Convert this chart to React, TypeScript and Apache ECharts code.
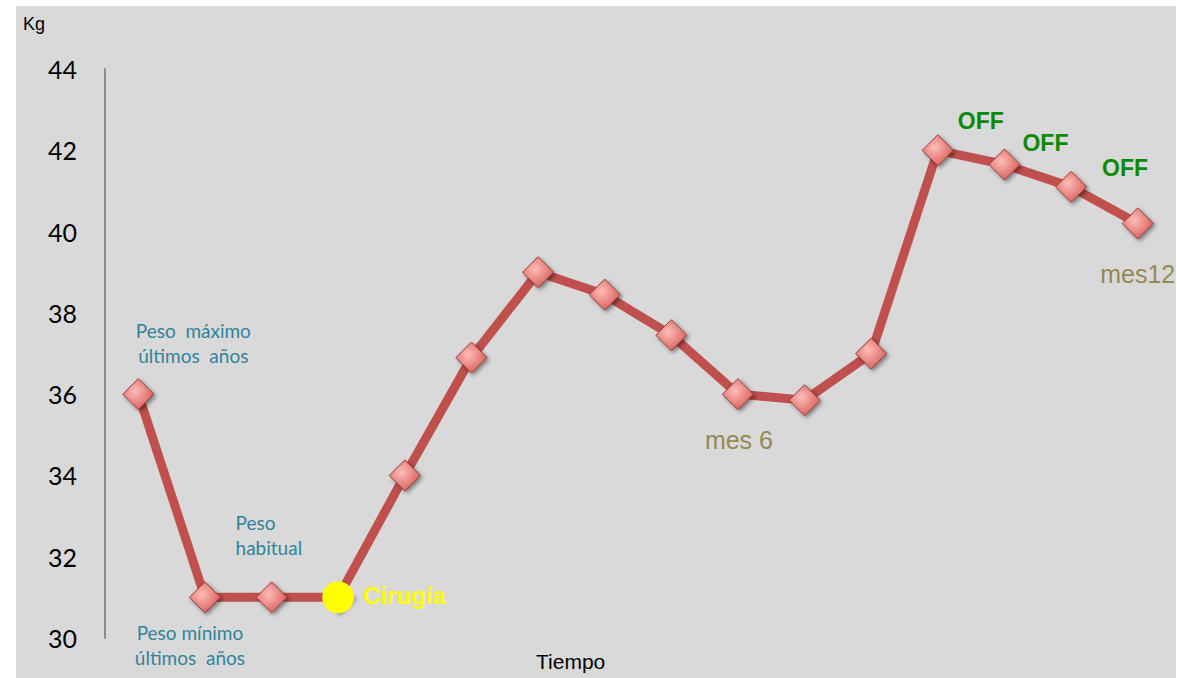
import React, { useEffect, useRef } from "react";
import * as echarts from "echarts";

// Body weight over time (kg)
const steps: string[] = [
  "t1", "t2", "t3", "t4", "t5", "t6", "t7", "t8",
  "t9", "t10", "t11", "t12", "t13", "t14", "t15", "t16",
];
const weights: number[] = [
  36.0, 31.0, 31.0, 31.0, 34.0, 36.9, 39.0, 38.45,
  37.45, 36.0, 35.85, 37.0, 42.0, 41.65, 41.1, 40.2,
];
const yTicks = { min: 30, max: 44, interval: 2 };
const surgeryIndex = 3;

type Note = { index: number; text: string; kind: string; offset: [number, number]; align?: string };
const notes: Note[] = [
  { index: 0, text: "Peso  máximo\núltimos  años", kind: "teal", offset: [55, -51] },
  { index: 1, text: "Peso mínimo\núltimos  años", kind: "teal", offset: [-15, 48] },
  { index: 2, text: "Peso\nhabitual", kind: "teal", offset: [-36, -62], align: "left" },
  { index: 9, text: "mes 6", kind: "month", offset: [1, 46] },
  { index: 15, text: "mes12", kind: "month", offset: [0, 51] },
  { index: 12, text: "OFF", kind: "off", offset: [43, -29] },
  { index: 13, text: "OFF", kind: "off", offset: [41, -22] },
  { index: 14, text: "OFF", kind: "off", offset: [54, -19] },
];

const noteStyles: Record<string, any> = {
  teal: { color: "#31849b", fontSize: 19, fontFamily: "Lato", lineHeight: 25 },
  month: { color: "#948a54", fontSize: 25, fontFamily: "Liberation Sans" },
  off: { color: "#0a8a0a", fontSize: 23, fontWeight: "bold", fontFamily: "Liberation Sans" },
};

export default function App() {
  const ref = useRef<HTMLDivElement>(null);

  useEffect(() => {
    document.body.style.margin = "0";
    const chart = echarts.init(ref.current!, null, { renderer: "svg" });

    const diamondStyle = {
      color: new echarts.graphic.RadialGradient(0.4, 0.4, 0.7, [
        { offset: 0, color: "#fdbdb9" },
        { offset: 1, color: "#d65550" },
      ]),
      borderColor: "#9c3b38",
      borderWidth: 1,
      shadowColor: "rgba(0,0,0,0.45)",
      shadowBlur: 4,
      shadowOffsetX: 2,
      shadowOffsetY: 2,
    };

    const lineData = weights.map((v, i) => {
      const note = notes.find((n) => n.index === i);
      const item: any = { value: v };
      if (note) {
        item.label = {
          show: true,
          position: "inside",
          formatter: note.text,
          offset: note.offset,
          align: note.align || "center",
          verticalAlign: "middle",
          ...noteStyles[note.kind],
        };
      }
      return item;
    });

    const surgeryData = weights.map((v, i) => (i === surgeryIndex ? v : null));

    chart.setOption({
      animation: false,
      backgroundColor: "#d9d9d9",
      grid: { left: 89, right: 5, top: 63, bottom: 40 },
      xAxis: {
        type: "category",
        data: steps,
        boundaryGap: true,
        axisLine: { show: false },
        axisTick: { show: false },
        axisLabel: { show: false },
        splitLine: { show: false },
      },
      yAxis: {
        type: "value",
        min: yTicks.min,
        max: yTicks.max,
        interval: yTicks.interval,
        axisLine: { show: true, lineStyle: { color: "#8c8c8c", width: 2 } },
        axisTick: { show: false },
        splitLine: { show: false },
        axisLabel: {
          color: "#000",
          fontSize: 25,
          fontFamily: "Lato",
          margin: 28,
        },
      },
      graphic: [
        {
          type: "text",
          left: 7,
          top: 9,
          style: { text: "Kg", fontSize: 18, fill: "#000", fontFamily: "Liberation Sans" },
        },
        {
          type: "text",
          left: 520,
          top: 645,
          style: { text: "Tiempo", fontSize: 21, fill: "#000", fontFamily: "Liberation Sans" },
        },
      ],
      series: [
        {
          type: "line",
          data: lineData,
          lineStyle: { color: "#c0504d", width: 9 },
          symbol: "diamond",
          symbolSize: 31,
          itemStyle: diamondStyle,
          z: 2,
        },
        {
          type: "scatter",
          data: surgeryData,
          symbol: "circle",
          symbolSize: 32,
          itemStyle: { color: "#ffff00", opacity: 1 },
          label: {
            show: true,
            position: "right",
            distance: 9,
            offset: [0, -2],
            formatter: "Cirugía",
            color: "#ffff00",
            fontSize: 24,
            fontWeight: "bold",
            fontFamily: "Liberation Sans",
          },
          z: 5,
        },
      ],
    });

    return () => chart.dispose();
  }, []);

  return (
    <div style={{ position: "relative", width: 1177, height: 678, background: "#fff" }}>
      <div
        ref={ref}
        style={{ position: "absolute", left: 16, top: 6, width: 1160, height: 672 }}
      />
    </div>
  );
}
